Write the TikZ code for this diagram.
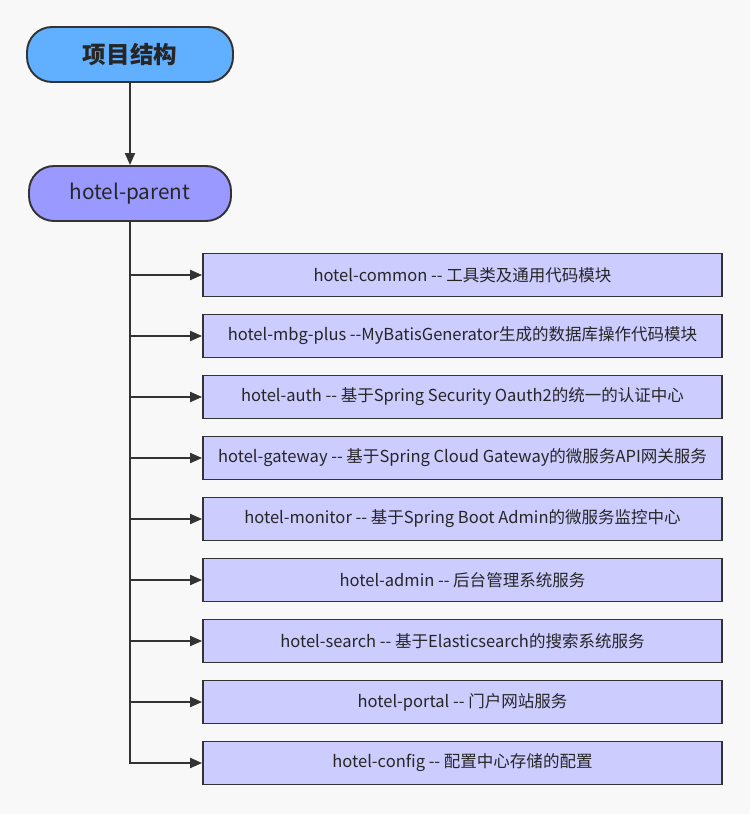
\documentclass[tikz,border=0pt]{standalone}
\usepackage{fontspec}
\newfontfamily\cjkfont{Noto Sans CJK SC}
\usetikzlibrary{arrows.meta}

\definecolor{pagebg}{HTML}{F8F8F8}
\definecolor{edgegray}{HTML}{333333}
\definecolor{rootblue}{HTML}{61B0FF}
\definecolor{parentviolet}{HTML}{9999FF}
\definecolor{modlilac}{HTML}{CCCCFF}

\tikzset{
  rootbox/.style={draw=edgegray, line width=1.1pt, fill=rootblue, rounded corners=0.5cm,
    minimum width=4.12cm, minimum height=1.1cm, text=black!85,
    font=\cjkfont\bfseries\fontsize{13.4}{15}\selectfont},
  parentbox/.style={draw=edgegray, line width=1.1pt, fill=parentviolet, rounded corners=0.5cm,
    minimum width=4.04cm, minimum height=1.1cm, text=black!85,
    font=\cjkfont\fontsize{11.8}{14}\selectfont},
  modbox/.style={draw=edgegray, line width=1.1pt, fill=modlilac,
    minimum width=10.38cm, minimum height=0.86cm, text=black!85,
    font=\cjkfont\fontsize{9.4}{11}\selectfont},
  link/.style={draw=edgegray, line width=1.1pt},
  linkarrow/.style={link, -{Triangle[length=0.24cm,width=0.2cm]}}
}

\begin{document}
\begin{tikzpicture}[x=0.02cm, y=-0.02cm]
      \fill[pagebg] (0,0) rectangle (750,814);
      \useasboundingbox (0,0) rectangle (750,814);

      \node[rootbox] (root) at (130,54.5) {项目结构};
      \node[parentbox] (parent) at (130,193.5) {hotel-parent};

      \node[modbox] (common) at (462.5,275) {hotel-common -- 工具类及通用代码模块};
      \node[modbox] (mbg) at (462.5,336) {hotel-mbg-plus --MyBatisGenerator生成的数据库操作代码模块};
      \node[modbox] (auth) at (462.5,397) {hotel-auth -- 基于Spring Security Oauth2的统一的认证中心};
      \node[modbox] (gateway) at (462.5,458) {hotel-gateway -- 基于Spring Cloud Gateway的微服务API网关服务};
      \node[modbox] (monitor) at (462.5,519) {hotel-monitor -- 基于Spring Boot Admin的微服务监控中心};
      \node[modbox] (admin) at (462.5,580) {hotel-admin -- 后台管理系统服务};
      \node[modbox] (search) at (462.5,641) {hotel-search -- 基于Elasticsearch的搜索系统服务};
      \node[modbox] (portal) at (462.5,702) {hotel-portal -- 门户网站服务};
      \node[modbox] (config) at (462.5,763) {hotel-config -- 配置中心存储的配置};

      \draw[linkarrow] (root) -- (parent);

      \draw[linkarrow] (parent.south) |- (config.west);
      \draw[linkarrow] (parent.south |- common.west) -- (common.west);
      \draw[linkarrow] (parent.south |- mbg.west) -- (mbg.west);
      \draw[linkarrow] (parent.south |- auth.west) -- (auth.west);
      \draw[linkarrow] (parent.south |- gateway.west) -- (gateway.west);
      \draw[linkarrow] (parent.south |- monitor.west) -- (monitor.west);
      \draw[linkarrow] (parent.south |- admin.west) -- (admin.west);
      \draw[linkarrow] (parent.south |- search.west) -- (search.west);
      \draw[linkarrow] (parent.south |- portal.west) -- (portal.west);
    \end{tikzpicture}
\end{document}
